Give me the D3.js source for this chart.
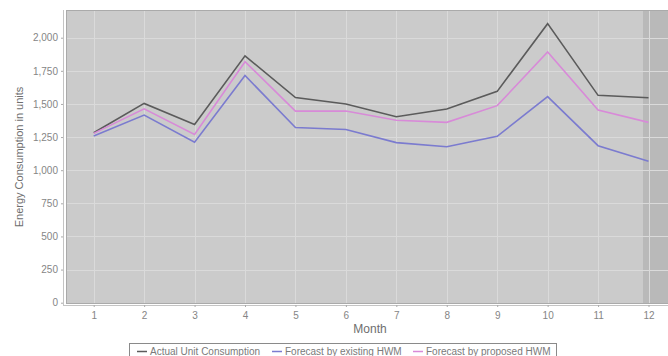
<!DOCTYPE html>
<html>
<head>
<meta charset="utf-8">
<script src="https://cdn.jsdelivr.net/npm/d3@7"></script>
<style>
  html, body { margin: 0; padding: 0; background: #fff; }
  svg { display: block; font-family: "Liberation Sans", Arial, sans-serif; }
</style>
</head>
<body>
<svg id="chart" width="668" height="356"></svg>
<script>
// Monthly energy consumption (units): actual vs. two forecasting models
const months = [1, 2, 3, 4, 5, 6, 7, 8, 9, 10, 11, 12];
const actualUnits = [1283, 1504, 1345, 1863, 1548, 1500, 1404, 1462, 1595, 2106, 1565, 1547];
const existingHWM = [1258, 1416, 1211, 1715, 1322, 1307, 1208, 1177, 1256, 1555, 1185, 1067];
const proposedHWM = [1278, 1463, 1270, 1819, 1446, 1447, 1377, 1361, 1487, 1892, 1454, 1361];
const yTicks = [0, 250, 500, 750, 1000, 1250, 1500, 1750, 2000];

const seriesNames = ["Actual Unit Consumption", "Forecast by existing HWM", "Forecast by proposed HWM"];
const seriesColors = ["#5b5b5b", "#7b7bcf", "#d88ad8"];
const seriesData = [actualUnits, existingHWM, proposedHWM];

const svg = d3.select("#chart");
const plot = { left: 66, top: 10, right: 676, bottom: 303 };

const x = d3.scaleLinear().domain([1, 12]).range([93.7, 648.5]);
const y = d3.scaleLinear().domain([0, 2000]).range([302.7, 37.7]);

// plot background
svg.append("rect")
  .attr("x", plot.left).attr("y", plot.top)
  .attr("width", plot.right - plot.left).attr("height", plot.bottom - plot.top)
  .attr("fill", "#cbcbcb");

// shaded strip on the right edge of the plot
svg.append("rect")
  .attr("x", 643).attr("y", plot.top)
  .attr("width", plot.right - 643).attr("height", plot.bottom - plot.top)
  .attr("fill", "#b9b9b9");

// grid lines
const grid = svg.append("g").attr("stroke", "#dadada").attr("stroke-width", 1);
grid.selectAll("line.h").data(yTicks).join("line")
  .attr("x1", plot.left).attr("x2", plot.right)
  .attr("y1", d => Math.round(y(d)) + 0.5).attr("y2", d => Math.round(y(d)) + 0.5);
grid.selectAll("line.v").data(months).join("line")
  .attr("y1", plot.top).attr("y2", plot.bottom)
  .attr("x1", d => Math.round(x(d)) + 0.5).attr("x2", d => Math.round(x(d)) + 0.5);

// plot border
svg.append("rect")
  .attr("x", plot.left + 0.5).attr("y", plot.top + 0.5)
  .attr("width", plot.right - plot.left).attr("height", plot.bottom - plot.top)
  .attr("fill", "none").attr("stroke", "#aaaaaa");

// axes
const yAxis = d3.axisLeft(y).tickValues(yTicks).tickSize(2).tickPadding(3)
  .tickFormat(d3.format(","));
const gy = svg.append("g").attr("transform", "translate(63,0)").call(yAxis);
gy.select(".domain").attr("stroke", "#c4c4c4").attr("d", `M0.5,${plot.top}V${plot.bottom + 3}`);
gy.selectAll(".tick line").attr("stroke", "#aaaaaa");
gy.selectAll(".tick text").attr("fill", "#858585").attr("font-size", 10)
  .attr("font-family", "'Liberation Sans', Arial, sans-serif");

const xAxis = d3.axisBottom(x).tickValues(months).tickSize(2).tickPadding(5)
  .tickFormat(d3.format("d"));
const gx = svg.append("g").attr("transform", "translate(0,305)").call(xAxis);
gx.select(".domain").attr("stroke", "#c4c4c4").attr("d", `M${plot.left - 3},0.5H${plot.right}`);
gx.selectAll(".tick line").attr("stroke", "#aaaaaa");
gx.selectAll(".tick text").attr("fill", "#858585").attr("font-size", 10)
  .attr("font-family", "'Liberation Sans', Arial, sans-serif");

// axis titles
svg.append("text")
  .attr("transform", "translate(23,157) rotate(-90)")
  .attr("text-anchor", "middle")
  .attr("font-size", 11).attr("fill", "#6e6e6e")
  .text("Energy Consumption in units");

svg.append("text")
  .attr("x", 370).attr("y", 333)
  .attr("text-anchor", "middle")
  .attr("font-size", 12).attr("fill", "#6e6e6e")
  .text("Month");

// series lines
const line = d3.line().x((d, i) => x(months[i])).y(d => y(d));
svg.append("g").selectAll("path").data(seriesData).join("path")
  .attr("d", d => line(d))
  .attr("fill", "none")
  .attr("stroke", (d, i) => seriesColors[i])
  .attr("stroke-width", 1.6)
  .attr("stroke-linejoin", "miter");

// legend
const legend = svg.append("g");
legend.append("rect")
  .attr("x", 129.5).attr("y", 343.5).attr("width", 427).attr("height", 20)
  .attr("fill", "#fff").attr("stroke", "#8a8a8a");
const legendX = [137, 272, 413];
const items = legend.selectAll("g.item").data(seriesNames).join("g")
  .attr("transform", (d, i) => `translate(${legendX[i]},0)`);
items.append("line")
  .attr("x1", 0).attr("x2", 10).attr("y1", 351.5).attr("y2", 351.5)
  .attr("stroke", (d, i) => seriesColors[i]).attr("stroke-width", 1.5);
items.append("text")
  .attr("x", 13).attr("y", 355)
  .attr("font-size", 10).attr("fill", "#7a7a7a")
  .text(d => d);
</script>
</body>
</html>
